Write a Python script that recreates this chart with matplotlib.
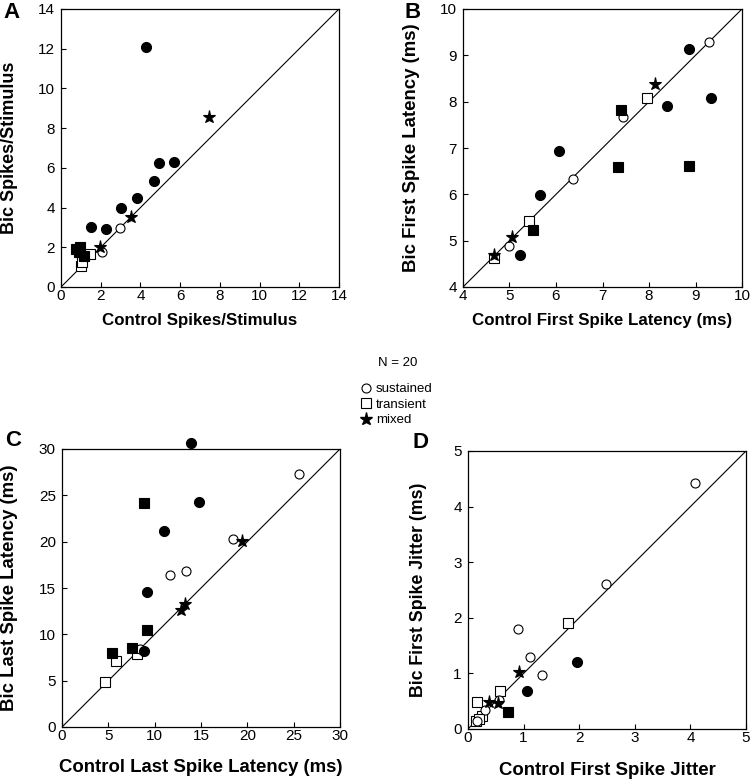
import matplotlib
matplotlib.use('Agg')
import matplotlib.pyplot as plt
from matplotlib.lines import Line2D

plt.rcParams['font.family'] = ['Liberation Sans', 'DejaVu Sans']

# ---------------- Panel A: spikes / stimulus ----------------
a_circ_open_x = [2.96, 2.04]
a_circ_open_y = [2.95, 1.77]
a_circ_fill_x = [4.29, 4.92, 5.70, 4.67, 3.82, 3.03, 1.51, 2.28]
a_circ_fill_y = [12.09, 6.26, 6.31, 5.34, 4.49, 3.99, 3.03, 2.93]
a_sq_open_x = [1.46, 0.99, 1.07]
a_sq_open_y = [1.65, 1.07, 1.27]
a_sq_fill_x = [0.74, 0.98, 1.14, 0.92]
a_sq_fill_y = [1.90, 2.03, 1.56, 1.75]
a_star_x = [7.44, 3.52, 1.98]
a_star_y = [8.55, 3.54, 2.02]

# ---------------- Panel B: first spike latency ----------------
b_circ_open_x = [9.28, 7.45, 6.37, 4.98]
b_circ_open_y = [9.29, 7.67, 6.33, 4.88]
b_circ_fill_x = [8.85, 9.33, 8.39, 6.06, 5.66, 5.23]
b_circ_fill_y = [9.14, 8.08, 7.90, 6.94, 5.99, 4.70]
b_sq_open_x = [7.96, 5.41, 4.67]
b_sq_open_y = [8.08, 5.42, 4.62]
b_sq_fill_x = [7.39, 7.33, 8.85, 5.51]
b_sq_fill_y = [7.81, 6.58, 6.61, 5.24]
b_star_x = [8.12, 5.05, 4.66]
b_star_y = [8.39, 5.08, 4.68]

# ---------------- Panel C: last spike latency ----------------
c_circ_open_x = [25.58, 18.49, 11.62, 13.35, 8.42]
c_circ_open_y = [27.34, 20.32, 16.44, 16.80, 8.39]
c_circ_fill_x = [13.88, 14.75, 10.97, 9.21, 8.85]
c_circ_fill_y = [30.68, 24.32, 21.12, 14.57, 8.17]
c_sq_open_x = [5.79, 8.06, 4.64]
c_sq_open_y = [7.09, 7.91, 4.86]
c_sq_fill_x = [8.81, 9.14, 7.52, 5.43]
c_sq_fill_y = [24.14, 10.43, 8.53, 7.99]
c_star_x = [19.46, 13.31, 12.84]
c_star_y = [20.07, 13.31, 12.66]

# ---------------- Panel D: first spike jitter ----------------
d_circ_open_x = [4.09, 2.48, 0.90, 1.12, 1.33, 0.30, 0.17, 0.55]
d_circ_open_y = [4.43, 2.61, 1.79, 1.30, 0.97, 0.35, 0.15, 0.52]
d_circ_fill_x = [1.96, 1.07]
d_circ_fill_y = [1.21, 0.68]
d_sq_open_x = [1.79, 0.58, 0.17, 0.25, 0.15, 0.20]
d_sq_open_y = [1.91, 0.69, 0.49, 0.24, 0.15, 0.18]
d_sq_fill_x = [0.72]
d_sq_fill_y = [0.30]
d_star_x = [0.91, 0.37, 0.54]
d_star_y = [1.03, 0.49, 0.46]

panel_letters = ['A', 'B', 'C', 'D']
x_labels = ['Control Spikes/Stimulus', 'Control First Spike Latency (ms)',
            'Control Last Spike Latency (ms)', 'Control First Spike Jitter']
y_labels = ['Bic Spikes/Stimulus', 'Bic First Spike Latency (ms)',
            'Bic Last Spike Latency (ms)', 'Bic First Spike Jitter (ms)']
limits = [(0, 14, 2), (4, 10, 1), (0, 30, 5), (0, 5, 1)]
legend_labels = ['sustained', 'transient', 'mixed']
n_text = 'N = 20'

data = [
    (a_circ_open_x, a_circ_open_y, a_circ_fill_x, a_circ_fill_y, a_sq_open_x, a_sq_open_y,
     a_sq_fill_x, a_sq_fill_y, a_star_x, a_star_y),
    (b_circ_open_x, b_circ_open_y, b_circ_fill_x, b_circ_fill_y, b_sq_open_x, b_sq_open_y,
     b_sq_fill_x, b_sq_fill_y, b_star_x, b_star_y),
    (c_circ_open_x, c_circ_open_y, c_circ_fill_x, c_circ_fill_y, c_sq_open_x, c_sq_open_y,
     c_sq_fill_x, c_sq_fill_y, c_star_x, c_star_y),
    (d_circ_open_x, d_circ_open_y, d_circ_fill_x, d_circ_fill_y, d_sq_open_x, d_sq_open_y,
     d_sq_fill_x, d_sq_fill_y, d_star_x, d_star_y),
]

W, H = 750, 779
fig = plt.figure(figsize=(W / 100, H / 100), dpi=100)

# axes boxes in pixels (left, top, width, height)
boxes = [(61, 9, 278, 278), (463, 9, 279, 278), (62, 449, 278, 278), (468, 451, 278, 278)]
letter_pos = [(12, 12), (413, 12), (13, 441), (420, 443)]
xlabel_off = [-0.094, -0.094, -0.115, -0.12]
ylabel_off = [-0.155, -0.154, -0.158, -0.148]
xlabel_size = [12.2, 12.2, 13.4, 13.4]
ylabel_size = [13.0, 13.4, 13.4, 12.8]

open_kw = dict(mfc='white', mec='black', mew=0.8, ls='none', clip_on=False)
fill_kw = dict(mfc='black', mec='black', mew=0.8, ls='none', clip_on=False)

for i, (box, d) in enumerate(zip(boxes, data)):
    l, t, w, h = box
    ax = fig.add_axes([l / W, (H - t - h) / H, w / W, h / H])
    lo, hi, step = limits[i]
    ax.set_xlim(lo, hi)
    ax.set_ylim(lo, hi)
    ticks = list(range(lo, hi + 1, step))
    ax.set_xticks(ticks)
    ax.set_yticks(ticks)
    ax.tick_params(direction='in', length=3.5, width=0.8, labelsize=11)
    ax.tick_params(axis='x', pad=1.5)
    ax.tick_params(axis='y', pad=4.5)
    for s in ax.spines.values():
        s.set_linewidth(0.9)
    ax.plot([lo, hi], [lo, hi], color='black', lw=0.8, zorder=1)
    cox, coy, cfx, cfy, sox, soy, sfx, sfy, stx, sty = d
    ax.plot(sox, soy, marker='s', ms=6.5, zorder=2, **open_kw)
    ax.plot(cox, coy, marker='o', ms=6.5, zorder=2, **open_kw)
    ax.plot(sfx, sfy, marker='s', ms=6.8, zorder=3, **fill_kw)
    ax.plot(cfx, cfy, marker='o', ms=7.2, zorder=3, **fill_kw)
    ax.plot(stx, sty, marker='*', ms=9.5, zorder=4, **fill_kw)
    ax.set_xlabel(x_labels[i], fontsize=xlabel_size[i], fontweight='bold')
    ax.set_ylabel(y_labels[i], fontsize=ylabel_size[i], fontweight='bold')
    ax.xaxis.set_label_coords(0.5, xlabel_off[i])
    ax.yaxis.set_label_coords(ylabel_off[i], 0.5)
    lx, ly = letter_pos[i]
    fig.text(lx / W, 1 - ly / H, panel_letters[i], fontsize=16, fontweight='bold',
             ha='center', va='center')

fig.text(398 / W, 1 - 363 / H, n_text, fontsize=9.5, ha='center', va='center')
handles = [
    Line2D([], [], marker='o', ms=6.5, mfc='white', mec='black', mew=0.8, ls='none'),
    Line2D([], [], marker='s', ms=6.5, mfc='white', mec='black', mew=0.8, ls='none'),
    Line2D([], [], marker='*', ms=9.5, mfc='black', mec='black', ls='none'),
]
fig.legend(handles, legend_labels, loc='upper left', bbox_to_anchor=(359 / W, 1 - 383 / H),
           frameon=False, fontsize=9.5, handlelength=1.0, handletextpad=0.3,
           labelspacing=0.25, borderpad=0, borderaxespad=0)

fig.savefig('out.png', dpi=100)
